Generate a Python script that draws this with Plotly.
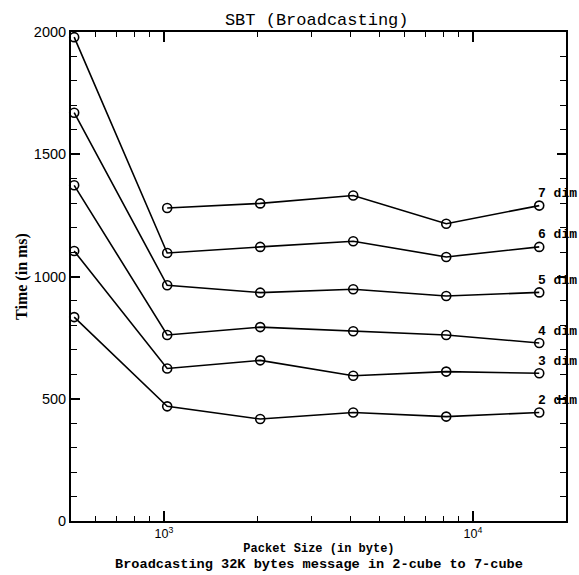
import plotly.graph_objects as go
import math

sizes = [512, 1024, 2048, 4096, 8192, 16384]
dim2 = [834, 469, 417, 444, 427, 444]
dim3 = [1104, 624, 657, 594, 611, 604]
dim4 = [1373, 761, 793, 776, 761, 728]
dim5 = [1670, 964, 934, 948, 920, 935]
dim6 = [1979, 1096, 1121, 1144, 1080, 1121]
dim7 = [None, 1280, 1299, 1331, 1216, 1290]
series = [("2 dim", dim2), ("3 dim", dim3), ("4 dim", dim4),
          ("5 dim", dim5), ("6 dim", dim6), ("7 dim", dim7)]

x_major = [1000, 10000]
x_major_text = ["10<sup>3</sup>", "10<sup>4</sup>"]
x_minor = [500, 600, 700, 800, 900, 2000, 3000, 4000, 5000, 6000, 7000, 8000, 9000, 20000]
y_major = [0, 500, 1000, 1500, 2000]

fig = go.Figure()
for name, vals in series:
    fig.add_trace(go.Scatter(
        x=sizes, y=vals, mode="lines+markers", name=name,
        line=dict(color="black", width=1.6),
        marker=dict(symbol="circle-open", size=9, color="black", line=dict(width=1.6)),
        cliponaxis=False, showlegend=False))
    fig.add_annotation(x=math.log10(sizes[-1]), y=vals[-1], text="<b>" + name + "</b>",
                       showarrow=False, xanchor="left", yanchor="middle",
                       xshift=-3, yshift=12,
                       font=dict(family="Liberation Mono", size=13, color="black"))

fig.add_annotation(x=0.5, y=-0.0745, xref="paper", yref="paper",
                   text=("<b>Packet Size (in byte)</b><br>"
                         "<span style='font-size:13.6px'><b>Broadcasting 32K bytes message in 2-cube to 7-cube</b></span>"),
                   showarrow=False, xanchor="center", yanchor="middle", align="center",
                   font=dict(family="Liberation Mono", size=12, color="black"))

fig.update_layout(
    width=579, height=575,
    margin=dict(l=71, r=13, t=32, b=54),
    paper_bgcolor="white", plot_bgcolor="white",
    title=dict(text="SBT (Broadcasting)", x=0.547, xanchor="center", y=1 - 19 / 575,
               yanchor="middle", font=dict(family="Liberation Mono", size=17, color="black")),
    xaxis=dict(type="log", range=[math.log10(500), math.log10(20000)],
               tickmode="array", tickvals=x_major, ticktext=x_major_text,
               ticks="inside", ticklen=10, tickwidth=1.5, tickcolor="black",
               minor=dict(tickmode="array", tickvals=x_minor, ticks="inside",
                          ticklen=5, tickwidth=1.3, tickcolor="black"),
               showline=True, linecolor="black", linewidth=2, mirror="allticks",
               showgrid=False, zeroline=False,
               tickfont=dict(family="Liberation Sans", size=12.5, color="black")),
    yaxis=dict(range=[0, 2000], tickmode="array", tickvals=y_major,
               ticks="inside", ticklen=9, tickwidth=1.5, tickcolor="black",
               minor=dict(dtick=100, ticks="inside", ticklen=6, tickwidth=1.3, tickcolor="black"),
               showline=True, linecolor="black", linewidth=2, mirror="allticks",
               showgrid=False, zeroline=False,
               title=dict(text="<b>Time (in ms)</b>", standoff=2,
                          font=dict(family="Liberation Serif", size=16, color="black")),
               tickfont=dict(family="Liberation Sans", size=14.5, color="black")),
)

fig.write_html("out.html")
